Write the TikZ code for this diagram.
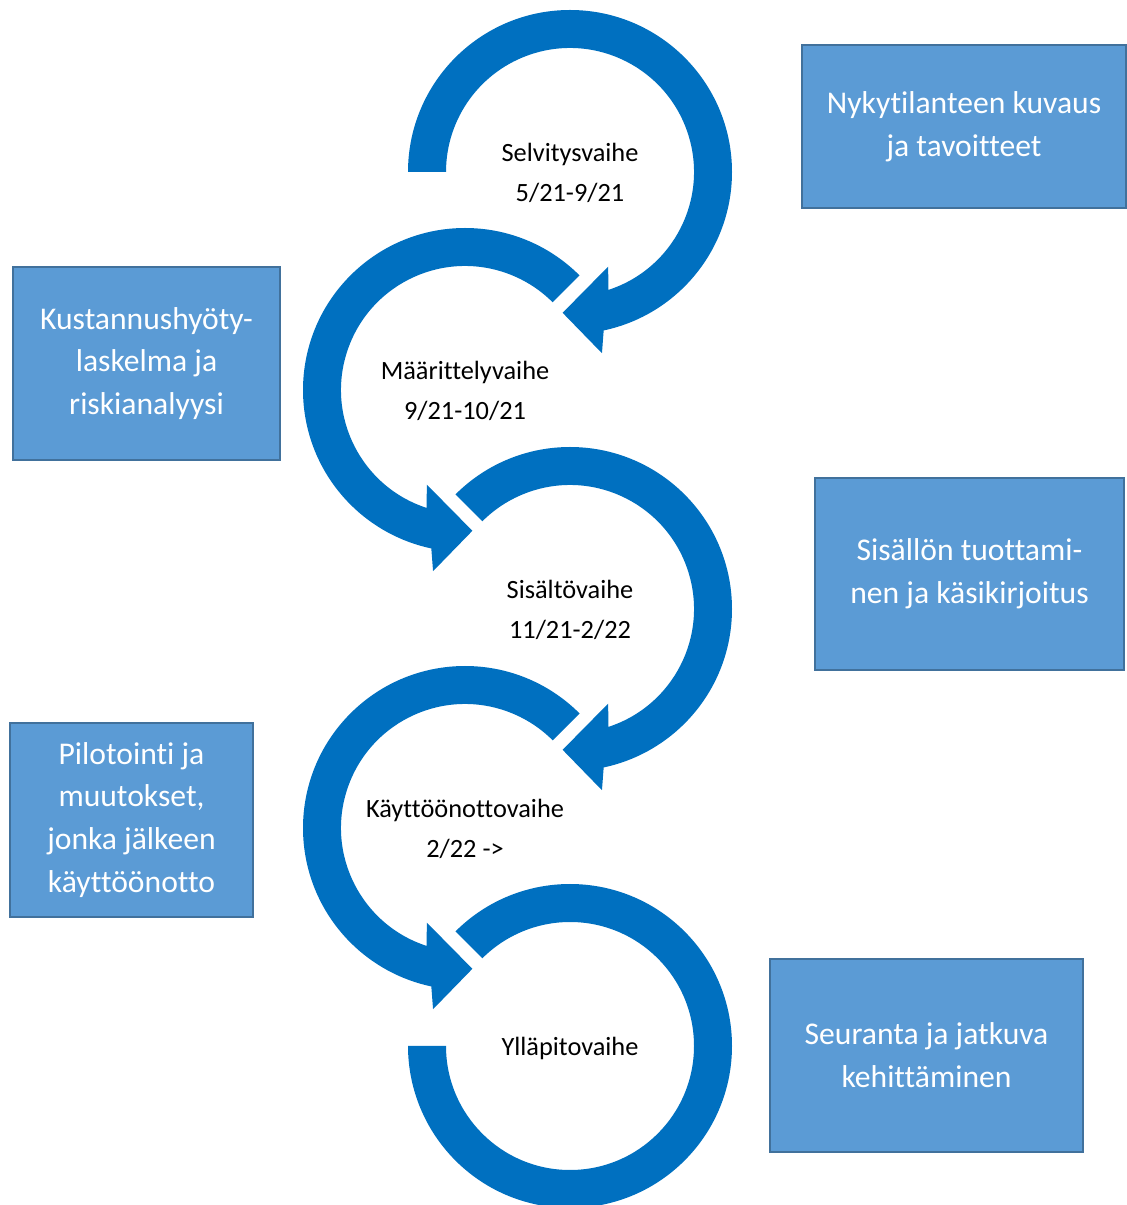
\documentclass[tikz,border=0pt]{standalone}
\usepackage{fontspec}
\setmainfont{Carlito}[Ligatures={TeX,NoCommon}]
\definecolor{ringblue}{HTML}{0070C0}
\definecolor{boxfill}{HTML}{5B9BD5}
\definecolor{boxline}{HTML}{41719C}
\begin{document}
\begin{tikzpicture}[
		x=0.02cm, y=0.02cm,
		ring/.style={fill=ringblue},
		phase/.style={align=center, text=black, font=\fontsize{15}{23.2}\selectfont},
		info box/.style={draw=boxline, fill=boxfill, line width=0.9pt, inner sep=0pt, align=center, text=white, font=\fontsize{18}{24.4}\selectfont}
		]
	
	\useasboundingbox (0, 0) rectangle (1127, 1205);
	
	% Rings with arrow head (flip -1 mirrors the ring)
	\foreach \cx/\cy/\flip/\tail in {570/1033/1/180, 465/815/-1/135, 570/596/1/135, 465/377/-1/135}{
		\fill[ring, shift={(\cx, \cy)}, xscale=\flip] (\tail:162) arc[start angle=\tail, end angle=-78, radius=162] -- (-80:184) -- (-93:141) -- (-68:102) -- (-72:124) arc[start angle=-72, end angle=\tail, radius=124] -- cycle;
	}
	
	% Last ring, no arrow head
	\fill[ring, shift={(570, 159)}] (135:162) arc[start angle=135, end angle=-180, radius=162] -- (180:124) arc[start angle=-180, end angle=135, radius=124] -- cycle;
	
	% Phases
	\node[phase] (selvitys) at (570, 1032) {Selvitysvaihe\\5/21-9/21};
	\node[phase] (maarittely) at (465, 814) {Määrittelyvaihe\\9/21-10/21};
	\node[phase] (sisalto) at (570, 595) {Sisältövaihe\\11/21-2/22};
	\node[phase] (kayttoonotto) at (465, 376) {Käyttöönottovaihe\\2/22 ->};
	\node[phase] (yllapito) at (570, 157) {Ylläpitovaihe};
	
	% Boxes
	\node[info box, minimum width=6.48cm, minimum height=3.26cm] (nykytila) at (964, 1078.5) {Nykytilanteen kuvaus\\ja tavoitteet};
	\node[info box, minimum width=5.34cm, minimum height=3.86cm] (kustannus) at (146.5, 841.5) {Kustannushyöty-\\laskelma ja\\riskianalyysi};
	\node[info box, minimum width=6.18cm, minimum height=3.84cm] (sisallon) at (969.5, 631) {Sisällön tuottami-\\nen ja käsikirjoitus};
	\node[info box, minimum width=4.86cm, minimum height=3.88cm] (pilotointi) at (131.5, 385) {Pilotointi ja\\muutokset,\\jonka jälkeen\\käyttöönotto};
	\node[info box, minimum width=6.26cm, minimum height=3.86cm] (seuranta) at (926.5, 149.5) {Seuranta ja jatkuva\\kehittäminen};
	
\end{tikzpicture}
\end{document}
